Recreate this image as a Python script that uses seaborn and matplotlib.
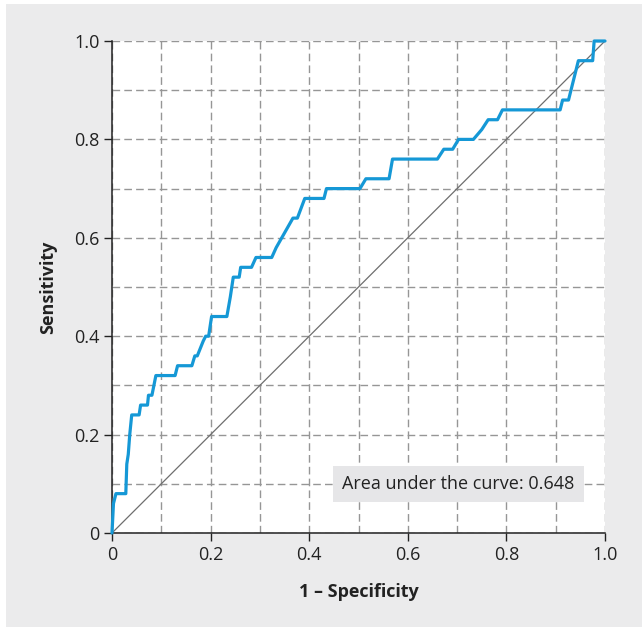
import matplotlib
matplotlib.use("Agg")
import matplotlib.pyplot as plt
import seaborn as sns
import pandas as pd
from matplotlib.patches import Rectangle

# ROC curve points
fpr = [0.000, 0.003, 0.008, 0.028, 0.030, 0.033, 0.036, 0.040, 0.055, 0.058,
       0.072, 0.074, 0.081, 0.085, 0.089, 0.128, 0.133, 0.162, 0.168, 0.173,
       0.185, 0.190, 0.196, 0.202, 0.233, 0.240, 0.246, 0.258, 0.261, 0.283,
       0.292, 0.324, 0.333, 0.367, 0.376, 0.391, 0.430, 0.435, 0.503, 0.515,
       0.562, 0.569, 0.660, 0.673, 0.691, 0.703, 0.733, 0.750, 0.763, 0.782,
       0.792, 0.909, 0.914, 0.926, 0.931, 0.946, 0.975, 0.978, 1.000]
tpr = [0.00, 0.06, 0.08, 0.08, 0.14, 0.16, 0.20, 0.24, 0.24, 0.26,
       0.26, 0.28, 0.28, 0.30, 0.32, 0.32, 0.34, 0.34, 0.36, 0.36,
       0.39, 0.40, 0.40, 0.44, 0.44, 0.48, 0.52, 0.52, 0.54, 0.54,
       0.56, 0.56, 0.58, 0.64, 0.64, 0.68, 0.68, 0.70, 0.70, 0.72,
       0.72, 0.76, 0.76, 0.78, 0.78, 0.80, 0.80, 0.82, 0.84, 0.84,
       0.86, 0.86, 0.88, 0.88, 0.90, 0.96, 0.96, 1.00, 1.00]
diag = [0.0, 1.0]
ticks = [0.0, 0.2, 0.4, 0.6, 0.8, 1.0]
tick_labels = ["0", "0.2", "0.4", "0.6", "0.8", "1.0"]
auc_text = "Area under the curve: 0.648"

sns.set_theme(style="white")
plt.rcParams['font.family'] = ['Open Sans', 'DejaVu Sans']

BG = "#ebebec"
fig = plt.figure(figsize=(6.42, 6.27), dpi=100, facecolor=BG)
# thin white margin at left and top
fig.patches.append(Rectangle((0, 0), 6/642, 1, transform=fig.transFigure, facecolor="white", edgecolor="none", zorder=-1))
fig.patches.append(Rectangle((0, 1 - 4/627), 1, 4/627, transform=fig.transFigure, facecolor="white", edgecolor="none", zorder=-1))

ax = fig.add_axes([112/642, 1 - 533/627, (605-112)/642, (533-41)/627])
ax.set_facecolor("white")

df = pd.DataFrame({"fpr": fpr, "tpr": tpr})
ax.plot(diag, diag, color="#6e6e6e", lw=0.9, zorder=2)
sns.lineplot(data=df, x="fpr", y="tpr", sort=False, estimator=None, ax=ax,
             color="#1598d6", lw=2.3, zorder=3, clip_on=False)

ax.set_xlim(0, 1)
ax.set_ylim(0, 1)
ax.set_xticks(ticks)
ax.set_xticklabels(tick_labels)
ax.set_yticks(ticks)
ax.set_yticklabels(tick_labels)
ax.set_xticks([0.1, 0.3, 0.5, 0.7, 0.9], minor=True)
ax.set_yticks([0.1, 0.3, 0.5, 0.7, 0.9], minor=True)
ax.grid(True, which="both", color="#969696", linestyle=(0, (5.5, 3)), lw=1.0, zorder=1)
ax.tick_params(axis="both", which="major", direction="out", length=6, width=1,
               color="#222222", labelsize=13, labelcolor="#222222", pad=3,
               bottom=True, left=True)
ax.tick_params(axis="both", which="minor", length=0)
for s in ["top", "right"]:
    ax.spines[s].set_visible(False)
for s in ["left", "bottom"]:
    ax.spines[s].set_color("#222222")
    ax.spines[s].set_linewidth(1.1)

ax.set_xlabel("1 – Specificity", fontsize=13, fontweight="bold", color="#222222", labelpad=14)
ax.set_ylabel("Sensitivity", fontsize=13, fontweight="bold", color="#222222", labelpad=12)

ax.text(0.703, 0.099, auc_text, ha="center", va="center", fontsize=13, color="#222222",
        bbox=dict(boxstyle="square,pad=0.5", facecolor="#e6e6e8", edgecolor="none"), zorder=4)

fig.savefig("out.png", dpi=100, facecolor=BG)
